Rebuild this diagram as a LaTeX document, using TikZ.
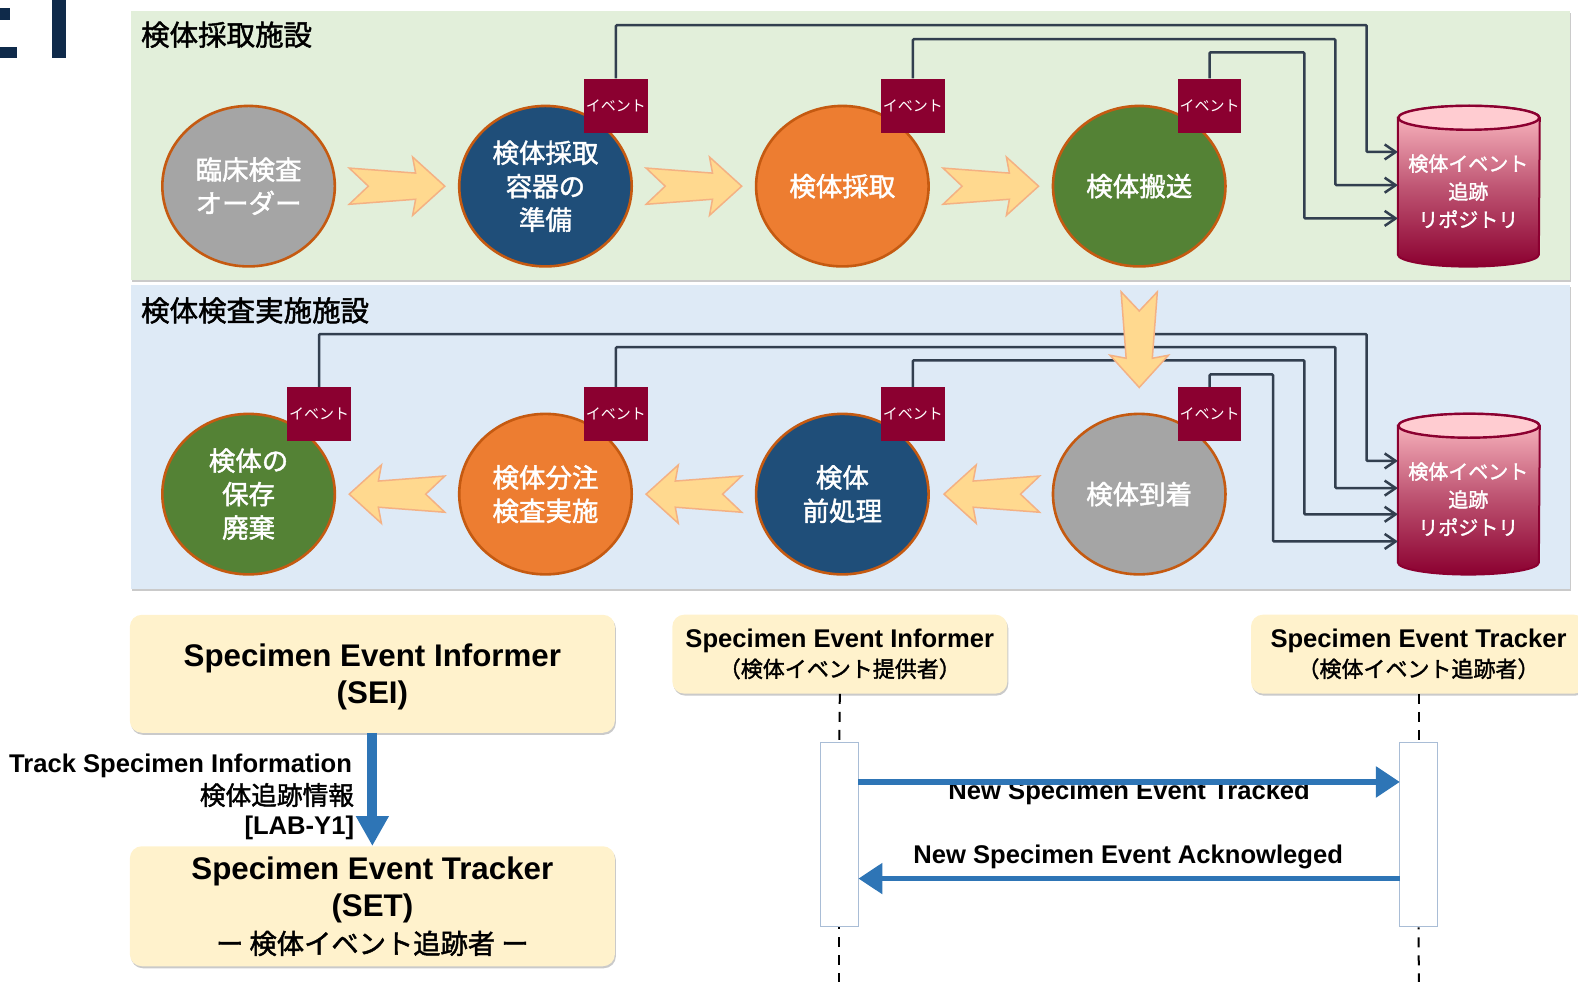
\documentclass[tikz,border=0pt]{standalone}
\usepackage{fontspec}
\setmainfont{Liberation Sans}
\newfontfamily\jp[FakeBold=1.6]{Noto Sans CJK JP}
\newfontfamily\jpl{Noto Sans CJK JP}
\usetikzlibrary{shadows,arrows.meta,calc,shapes.geometric}
\definecolor{greenpanel}{HTML}{E2EFDA}
\definecolor{bluepanel}{HTML}{DEEAF6}
\definecolor{cgray}{HTML}{A5A5A5}
\definecolor{cnavy}{HTML}{1F4E79}
\definecolor{corange}{HTML}{ED7D31}
\definecolor{cgreen}{HTML}{548235}
\definecolor{cedge}{HTML}{C55A11}
\definecolor{evred}{HTML}{8B0030}
\definecolor{dbpink}{HTML}{FFBFC6}
\definecolor{conncol}{HTML}{323F4F}
\definecolor{arrfill}{HTML}{FFD98F}
\definecolor{arredge}{HTML}{F4B183}
\definecolor{cream}{HTML}{FFF2CC}
\definecolor{seqblue}{HTML}{2E75B6}
\definecolor{navytitle}{HTML}{0F2A4A}
\definecolor{actedge}{HTML}{A9BDD6}
\newcommand{\fs}[2]{\fontsize{#1}{#2}\selectfont}
\newcommand{\flowarrow}[3]{%
  \draw[flowarrowstyle,shift={(#1,#2)},rotate=#3]
    (0,0) -- (-32,29) -- (-29,13) -- (-95,18) -- (-76,0) -- (-95,-18) -- (-29,-13) -- (-32,-29) -- cycle;}
\tikzset{
  x=1.0064pt,y=-1.0064pt,
  panel/.style={draw=none,drop shadow={shadow xshift=1pt,shadow yshift=-2pt,opacity=.35,fill=black!60}},
  circ/.style={shape=ellipse,draw=cedge,line width=2.6pt,minimum width=172.5pt,minimum height=160.5pt,inner sep=0pt,text=white,align=center,font=\jp\fs{26.5}{33.5}},
  evbox/.style={draw=none,fill=evred,minimum width=63.5pt,minimum height=54pt,inner sep=0pt,text=white,font=\jpl\fs{15}{15}},
  conn/.style={draw=conncol,line width=2.5pt,rounded corners=1pt,-{Straight Barb[length=11pt,width=15pt,line width=2.5pt]}},
  flowarrowstyle/.style={fill=arrfill,draw=arredge,line width=1.5pt,line join=miter},
  creambox/.style={fill=cream,draw=none,rounded corners=12pt,inner sep=0pt,align=center,
     drop shadow={shadow xshift=1pt,shadow yshift=-2pt,opacity=.35,fill=black!60}},
  seqtext/.style={font=\bfseries\fs{25.6}{25.6},inner sep=0pt},
  life/.style={draw=black,line width=2pt,dash pattern=on 10pt off 8pt},
  actbox/.style={draw=actedge,fill=white,line width=1pt,minimum width=38pt,minimum height=184pt,inner sep=0pt},
  seqarrow/.style={draw=seqblue,line width=5.5pt,-{Triangle[length=24pt,width=30pt]}},
  panellabel/.style={font=\jp\fs{28.5}{28.5},anchor=west,inner sep=0pt},
  dblabel/.style={text=white,align=center,font=\jp\fs{20}{28},inner sep=0pt},
  bigtext/.style={font=\bfseries\fs{31.3}{31.3},align=center,inner sep=0pt},
}
\begin{document}
\begin{tikzpicture}
\useasboundingbox (0,0) rectangle (1568,975.76);
\clip (0,0) rectangle (1568,975.76);
% corner title fragment
\fill[navytitle] (0,8) rectangle (10,20);
\fill[navytitle] (0,47) rectangle (17,58);
\fill[navytitle] (52,0) rectangle (66,58);
% panels
\path[panel,fill=greenpanel] (130,11) rectangle (1560,278);
\path[panel,fill=bluepanel] (130,283) rectangle (1560,585);
\node[panellabel] (t1) at (140,34.5) {検体採取施設};
\node[panellabel] (t2) at (140,308.5) {検体検査実施施設};
% circles row 1
\node[circ,fill=cgray] (a1) at (247,185) {臨床検査\\オーダー};
\node[circ,fill=cnavy] (a2) at (542,185) {検体採取\\容器の\\準備};
\node[circ,fill=corange] (a3) at (837,185) {検体採取};
\node[circ,fill=cgreen] (a4) at (1132,185) {検体搬送};
% circles row 2
\node[circ,fill=cgreen] (b1) at (247,491) {検体の\\保存\\廃棄};
\node[circ,fill=corange] (b2) at (542,491) {検体分注\\検査実施};
\node[circ,fill=cnavy] (b3) at (837,491) {検体\\前処理};
\node[circ,fill=cgray] (b4) at (1132,491) {検体到着};
% events
\node[evbox] (e1) at (612,105) {イベント};
\node[evbox] (e2) at (907,105) {イベント};
\node[evbox] (e3) at (1202,105) {イベント};
\node[evbox] (f1) at (317,411.5) {イベント};
\node[evbox] (f2) at (612,411.5) {イベント};
\node[evbox] (f3) at (907,411.5) {イベント};
\node[evbox] (f4) at (1202,411.5) {イベント};
% databases
\foreach \yy in {0,306}{
  \begin{scope}[shift={(0,\yy)}]
  \draw[draw=evred,line width=2pt,top color=dbpink,bottom color=evred,middle color=evred!55!dbpink]
    (1389,117) -- (1389,253) arc[x radius=70.5pt,y radius=12pt,start angle=180,end angle=360] -- (1530,117)
    arc[x radius=70.5pt,y radius=12pt,start angle=0,end angle=180] -- cycle;
  \draw[draw=evred,line width=2.4pt,fill=dbpink!80!white] (1459.5,117) ellipse[x radius=70.5pt,y radius=12pt];
  \end{scope}
}
\node[dblabel] (d1) at (1459,190) {検体イベント\\追跡\\リポジトリ};
\node[dblabel] (d2) at (1459,496) {検体イベント\\追跡\\リポジトリ};
% connector points
\coordinate (r1) at (1358,25);\coordinate (s1) at (1389,151);
\coordinate (r2) at (1327,39);\coordinate (s2) at (1389,184);
\coordinate (r3) at (1296,52);\coordinate (s3) at (1389,217);
\coordinate (u1) at (1358,332);\coordinate (v1) at (1389,458);
\coordinate (u2) at (1327,345);\coordinate (v2) at (1389,485);
\coordinate (u3) at (1296,358);\coordinate (v3) at (1389,511);
\coordinate (u4) at (1265,372);\coordinate (v4) at (1389,538);
\draw[conn] (e1.north) |- (r1) |- (s1);
\draw[conn] (e2.north) |- (r2) |- (s2);
\draw[conn] (e3.north) |- (r3) |- (s3);
\draw[conn] (f1.north) |- (u1) |- (v1);
\draw[conn] (f2.north) |- (u2) |- (v2);
\draw[conn] (f3.north) |- (u3) |- (v3);
\draw[conn] (f4.north) |- (u4) |- (v4);
% block arrows
\flowarrow{442}{185}{0}
\flowarrow{737}{185}{0}
\flowarrow{1032}{185}{0}
\flowarrow{1132}{385}{-90}
\flowarrow{938}{491}{180}
\flowarrow{642}{491}{180}
\flowarrow{347}{491}{180}
% cream boxes
\node[creambox,minimum width=485pt,minimum height=118pt] (sei) at (370,669.5) {};
\node[bigtext] (seit) at (370,672.5) {Specimen Event Informer\\[6pt](SEI)};
\node[creambox,minimum width=485pt,minimum height=120pt,font=\bfseries\fs{31.3}{31.3}] (set) at (370,900.5) {Specimen Event Tracker\\[6pt](SET)\\[6pt]{\jp\mdseries\fs{27.3}{27.3}ー 検体イベント追跡者 ー}};
\node[creambox,minimum width=335pt,minimum height=79pt,font=\bfseries\fs{25.6}{25.6}] (inf) at (834.5,650) {Specimen Event Informer\\[4pt]{\jp\mdseries\fs{22}{22}（検体イベント提供者）}};
\node[creambox,minimum width=335pt,minimum height=79pt,font=\bfseries\fs{25.6}{25.6}] (trk) at (1409.5,650) {Specimen Event Tracker\\[4pt]{\jp\mdseries\fs{22}{22}（検体イベント追跡者）}};
% SEI->SET
\draw[draw=seqblue,line width=10pt,-{Triangle[length=30pt,width=31pt]}] (sei.south) -- (set.north);
\node[seqtext,anchor=east] (l1) at (350,761) {Track Specimen Information};
\node[font=\jp\fs{25.7}{25.7},anchor=east,inner sep=0pt] (l2) at (352,790) {検体追跡情報};
\node[seqtext,anchor=east] (l3) at (352,823) {[LAB-Y1]};
% sequence
\node[actbox] (ia) at (834,829.5) {};
\node[actbox] (ta) at (1409.5,829.5) {};
\coordinate (iend) at (834,990);
\coordinate (tend) at (1410,990);
\draw[life] (inf.south) -- (ia.north);
\draw[life] (trk.south) -- (ta.north);
\draw[life,dash phase=8pt] (ia.south) -- (iend);
\draw[life,dash phase=8pt] (ta.south) -- (tend);
\node[seqtext] (m1) at (1122,788) {New Specimen Event Tracked};
\node[seqtext] (m2) at (1121,851) {New Specimen Event Acknowleged};
\coordinate (ia1) at (853,777);
\coordinate (ta1) at (1391,777);
\coordinate (ia2) at (853,873);
\coordinate (ta2) at (1391,873);
\draw[seqarrow] (ia1) -- (ta1);
\draw[seqarrow] (ta2) -- (ia2);
\end{tikzpicture}
\end{document}
